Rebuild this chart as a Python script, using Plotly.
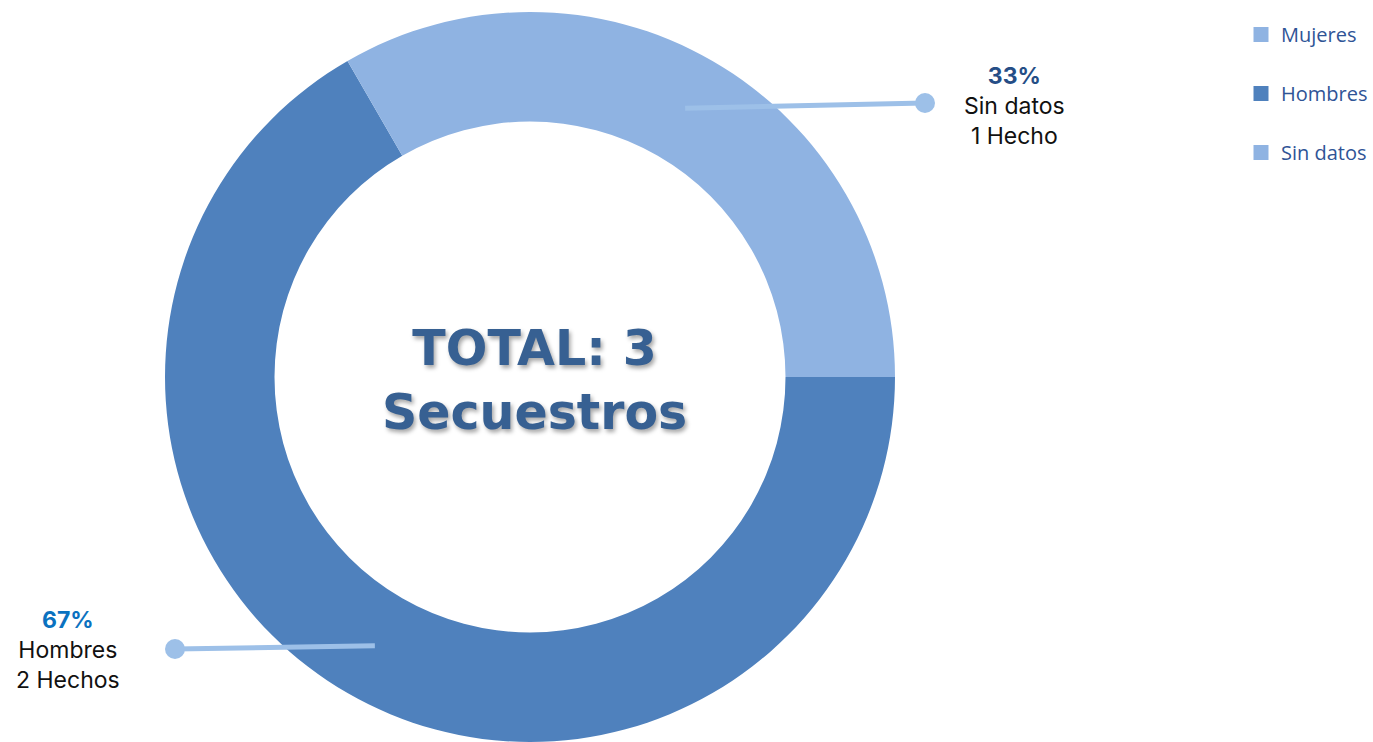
import math
import plotly.graph_objects as go

# ---- data ----
categories = ["Mujeres", "Hombres", "Sin datos"]
values = [0, 2, 1]
colors = ["#8FB3E2", "#4F81BD", "#8FB3E2"]
total_label = "TOTAL: 3"
subtitle = "Secuestros"

W, H = 1373, 742
hole = 0.70
dom_x = [165 / W, 895 / W]
dom_y = [0.0, 1 - 12 / H]

fig = go.Figure()
fig.add_trace(go.Pie(
    labels=categories, values=values, hole=hole, sort=False,
    direction="clockwise", rotation=90,
    marker=dict(colors=colors, line=dict(width=0)),
    textinfo="none", hoverinfo="label+value+percent",
    showlegend=False, domain=dict(x=dom_x, y=dom_y),
))

# legend via dummy traces (to get the spaced entries)
for c, col in zip(categories, colors):
    fig.add_trace(go.Scatter(
        x=[None], y=[None], mode="markers", name=c, legendgroup=c,
        marker=dict(symbol="square", size=15, color=col),
        showlegend=True,
    ))

# pie geometry in pixels
cx = (dom_x[0] + dom_x[1]) / 2 * W
cy = (1 - (dom_y[0] + dom_y[1]) / 2) * H
R = min((dom_x[1] - dom_x[0]) * W, (dom_y[1] - dom_y[0]) * H) / 2
rmid = R * (1 + hole) / 2

tot = sum(values)
ang = 90.0
mid_angles = {}
for c, v in zip(categories, values):
    span = 360.0 * v / tot
    mid_angles[c] = ang + span / 2
    ang += span

def px2paper(x, y):
    return x / W, 1 - y / H

leader_col = "#9DC0E8"
ends = {"Sin datos": (925, 103), "Hombres": (175, 649)}
shapes = []
for c, (ex, ey) in ends.items():
    a = math.radians(mid_angles[c])
    sx = cx + rmid * math.sin(a)
    sy = cy - rmid * math.cos(a)
    x0, y0 = px2paper(sx, sy)
    x1, y1 = px2paper(ex, ey)
    shapes.append(dict(type="line", xref="paper", yref="paper", x0=x0, y0=y0, x1=x1, y1=y1,
                       line=dict(color=leader_col, width=5)))
    r = 10
    shapes.append(dict(type="circle", xref="paper", yref="paper",
                       x0=(ex - r) / W, x1=(ex + r) / W, y0=1 - (ey + r) / H, y1=1 - (ey - r) / H,
                       fillcolor=leader_col, line=dict(width=0)))

annotations = []
def ann(text, x, y, size, color, bold=False, family="Inter", shadow=None):
    xp, yp = px2paper(x, y)
    f = dict(size=size, color=color, family=family, weight=700 if bold else 400)
    if shadow:
        f["shadow"] = shadow
    annotations.append(dict(text=text, x=xp, y=yp, xref="paper", yref="paper",
                            showarrow=False, xanchor="center", yanchor="middle", font=f))

pct = {c: round(100 * v / tot) for c, v in zip(categories, values)}
# right label (Sin datos)
ann(f"<b><span style='color:#254E86'>{pct['Sin datos']}%</span></b><br>Sin datos<br>{values[2]} Hecho",
    1014, 106, 23, "#111111")
# left label (Hombres)
ann(f"<b><span style='color:#0B72C0'>{pct['Hombres']}%</span></b><br>Hombres<br>{values[1]} Hechos",
    68, 650, 23, "#111111")
# center
sh = "2px 3px 4px rgba(0,0,0,0.35)"
ann(f"{total_label}<br>{subtitle}", 534, 380, 49, "#376092", bold=True,
    family="DejaVu Sans", shadow=sh)

fig.update_layout(
    width=W, height=H,
    margin=dict(l=0, r=0, t=0, b=0),
    paper_bgcolor="white", plot_bgcolor="white",
    xaxis=dict(visible=False), yaxis=dict(visible=False),
    shapes=shapes, annotations=annotations,
    legend=dict(x=1241 / W, y=1 - 15 / H, xanchor="left", yanchor="top",
                font=dict(family="Open Sans", size=20, color="#2F5496"),
                tracegroupgap=30, bgcolor="rgba(0,0,0,0)"),
)

fig.write_html("out.html", config={"displayModeBar": False},
               post_script="document.body.style.margin='0px';")
